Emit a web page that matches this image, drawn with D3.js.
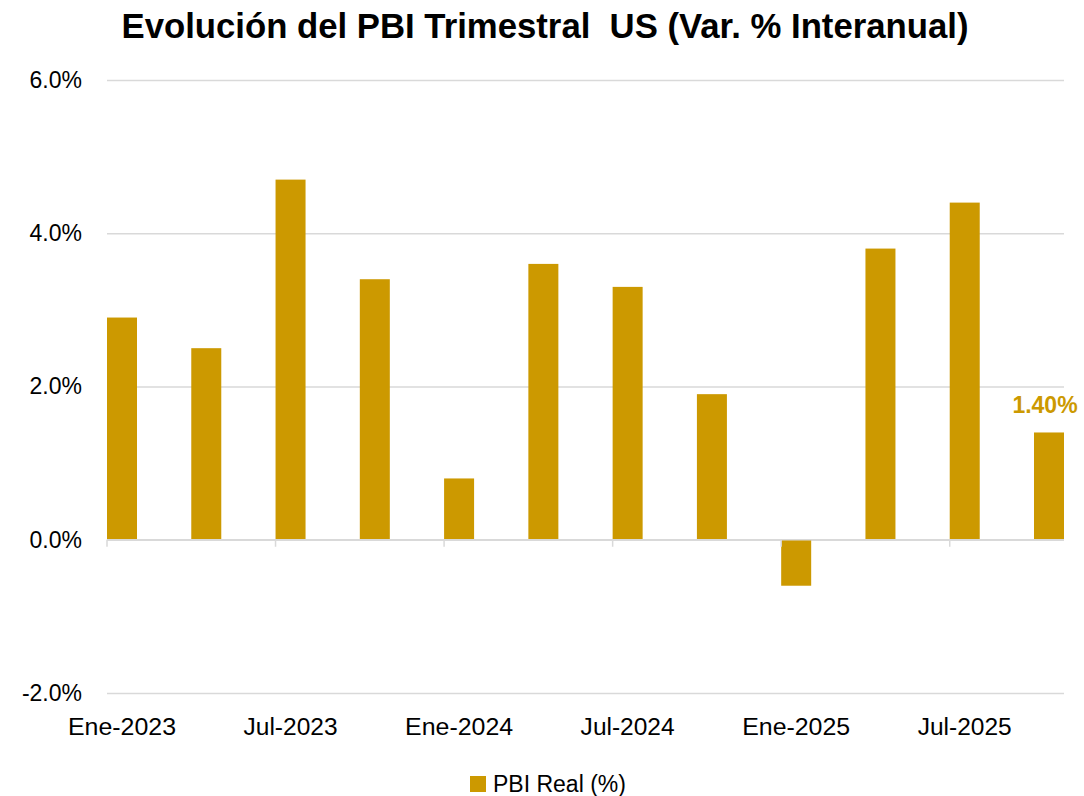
<!DOCTYPE html>
<html>
<head>
<meta charset="utf-8">
<script src="https://cdn.jsdelivr.net/npm/d3@7"></script>
<style>
  body { margin: 0; background: #fff; }
  text { font-family: "Liberation Sans", Arial, sans-serif; }
</style>
</head>
<body>
<div id="chart"></div>
<script>
// quarters (only every second one gets a label)
const quarters = ["Ene-2023", "Abr-2023", "Jul-2023", "Oct-2023",
  "Ene-2024", "Abr-2024", "Jul-2024", "Oct-2024",
  "Ene-2025", "Abr-2025", "Jul-2025", "Oct-2025"];
const pbiReal = [2.9, 2.5, 4.7, 3.4, 0.8, 3.6, 3.3, 1.9, -0.6, 3.8, 4.4, 1.4];
const yTicks = [-2, 0, 2, 4, 6];
const tickLabels = ["Ene-2023", "Jul-2023", "Ene-2024", "Jul-2024", "Ene-2025", "Jul-2025"];

const width = 1084, height = 796;
const gold = "#cc9900";
const grid = "#d9d9d9";

const svg = d3.select("#chart").append("svg")
  .attr("width", width)
  .attr("height", height);

// title
svg.append("text")
  .attr("x", 545)
  .attr("y", 38)
  .attr("text-anchor", "middle")
  .attr("font-size", 35)
  .attr("font-weight", "bold")
  .attr("textLength", 847)
  .attr("lengthAdjust", "spacingAndGlyphs")
  .style("white-space", "pre")
  .text("Evolución del PBI Trimestral  US (Var. % Interanual)");

const x = d3.scaleBand()
  .domain(quarters)
  .range([107, 1064])
  .paddingInner(0.644)
  .paddingOuter(0);

const y = d3.scaleLinear()
  .domain([-2, 6])
  .range([693, 80]);

// gridlines + y labels
const yaxis = svg.append("g")
  .attr("transform", "translate(107,0)")
  .call(d3.axisLeft(y).tickValues(yTicks).tickSize(-(1064 - 107)).tickPadding(25)
    .tickFormat(d => d.toFixed(1) + "%"));
yaxis.select(".domain").remove();
yaxis.selectAll("line").attr("stroke", grid).attr("stroke-width", 1.5);
yaxis.selectAll("text")
  .attr("font-size", 23)
  .attr("fill", "#000")
  .attr("font-family", "Liberation Sans, Arial, sans-serif");

// bars
svg.selectAll(".bar")
  .data(pbiReal)
  .enter()
  .append("rect")
  .attr("x", (d, i) => x(quarters[i]))
  .attr("y", d => y(Math.max(0, d)))
  .attr("width", x.bandwidth())
  .attr("height", d => Math.abs(y(d) - y(0)))
  .attr("fill", gold);

// zero axis with ticks every two quarters
svg.append("line")
  .attr("x1", 107).attr("x2", 1064)
  .attr("y1", y(0)).attr("y2", y(0))
  .attr("stroke", grid).attr("stroke-width", 1.5);

svg.selectAll(".xtick")
  .data(tickLabels)
  .enter()
  .append("line")
  .attr("x1", d => x(d)).attr("x2", d => x(d))
  .attr("y1", y(0)).attr("y2", y(0) + 7)
  .attr("stroke", grid).attr("stroke-width", 1.5);

svg.selectAll(".xlabel")
  .data(tickLabels)
  .enter()
  .append("text")
  .attr("x", d => x(d) + x.bandwidth() / 2)
  .attr("y", 735)
  .attr("text-anchor", "middle")
  .attr("font-size", 23)
  .attr("textLength", 106)
  .attr("lengthAdjust", "spacingAndGlyphs")
  .text(d => d)
  .attr("textLength", d => d.startsWith("Jul") ? 94 : 108);

// label on last bar
const last = pbiReal.length - 1;
svg.append("text")
  .attr("x", x(quarters[last]) + x.bandwidth() / 2 - 4)
  .attr("y", y(pbiReal[last]) - 19)
  .attr("text-anchor", "middle")
  .attr("font-size", 23)
  .attr("font-weight", "bold")
  .attr("fill", gold)
  .text(pbiReal[last].toFixed(2) + "%");

// legend
svg.append("rect")
  .attr("x", 470).attr("y", 776)
  .attr("width", 16).attr("height", 16)
  .attr("fill", gold);
svg.append("text")
  .attr("x", 493)
  .attr("y", 792)
  .attr("font-size", 23)
  .text("PBI Real (%)");
</script>
</body>
</html>
